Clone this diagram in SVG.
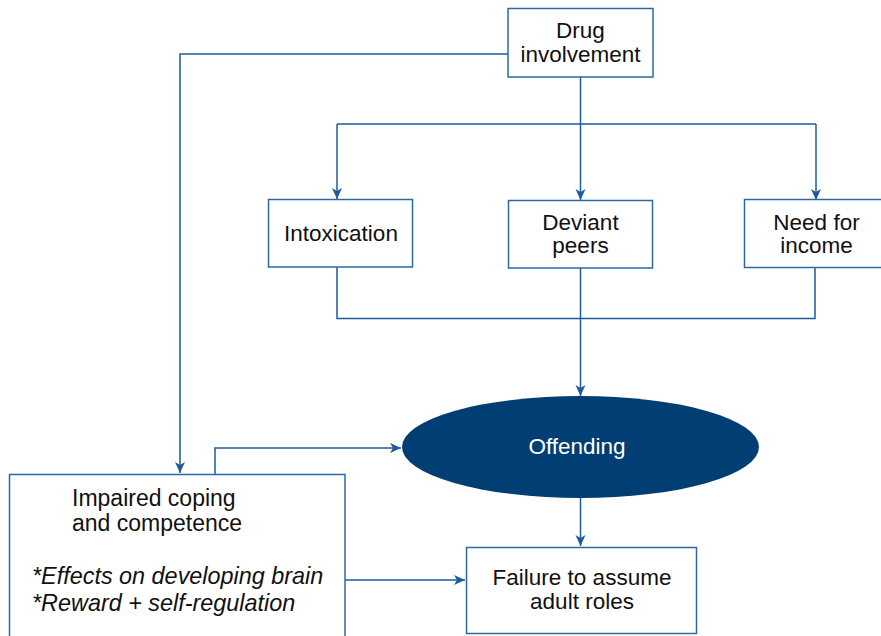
<svg xmlns="http://www.w3.org/2000/svg" width="881" height="636" viewBox="0 0 881 636">
  <defs>
    <style>
      .box { fill: #ffffff; stroke: #2b69a8; stroke-width: 1.5; }
      .conn { fill: none; stroke: #1d5c9c; stroke-width: 1.5; }
      .lbl { font-family: "Liberation Sans", Arial, sans-serif; font-size: 22.5px; fill: #111111; text-anchor: middle; }
      .lft { text-anchor: start; font-size: 23px; }
      .it { font-style: italic; font-size: 23.4px; }
      .wt { fill: #ffffff; }
    </style>
    <marker id="arr" markerUnits="userSpaceOnUse" markerWidth="12" markerHeight="12" viewBox="0 0 12 12" refX="11" refY="6" orient="auto">
      <path d="M0,1 L11,6 L0,11 L3,6 z" fill="#1d5c9c"/>
    </marker>
  </defs>
  <rect width="881" height="636" fill="#ffffff"/>

  <g id="connectors">
    <path class="conn" d="M508,54 H180 V473" marker-end="url(#arr)"/>
    <path class="conn" d="M580.5,77 V124"/>
    <path class="conn" d="M337,124 H816"/>
    <path class="conn" d="M337,124 V199" marker-end="url(#arr)"/>
    <path class="conn" d="M580.5,124 V200" marker-end="url(#arr)"/>
    <path class="conn" d="M816,124 V200" marker-end="url(#arr)"/>
    <path class="conn" d="M337,267 V318.5 H815 V268"/>
    <path class="conn" d="M580.5,268 V396" marker-end="url(#arr)"/>
    <path class="conn" d="M215,474 V448 H401" marker-end="url(#arr)"/>
    <path class="conn" d="M580.5,498 V546" marker-end="url(#arr)"/>
    <path class="conn" d="M345,580 H465" marker-end="url(#arr)"/>
  </g>

  <g id="drug">
    <rect class="box" x="508" y="8.5" width="145" height="68.5"/>
    <text class="lbl" x="580.5" y="38">Drug</text>
    <text class="lbl" x="580.5" y="62">involvement</text>
  </g>

  <g id="intoxication">
    <rect class="box" x="268.5" y="199.5" width="144" height="67.5"/>
    <text class="lbl" x="341" y="241">Intoxication</text>
  </g>

  <g id="deviant">
    <rect class="box" x="508.5" y="200.5" width="144" height="67.5"/>
    <text class="lbl" x="580.5" y="230">Deviant</text>
    <text class="lbl" x="580.5" y="253">peers</text>
  </g>

  <g id="income">
    <rect class="box" x="744.5" y="199.5" width="145" height="68"/>
    <text class="lbl" x="816.5" y="230">Need for</text>
    <text class="lbl" x="816.5" y="253">income</text>
  </g>

  <g id="offending">
    <ellipse cx="580.5" cy="447" rx="178.5" ry="51" fill="#003e73"/>
    <text class="lbl wt" x="577" y="454">Offending</text>
  </g>

  <g id="impaired">
    <rect class="box" x="9.5" y="474.5" width="335.5" height="170"/>
    <text class="lbl lft" x="72" y="506">Impaired coping</text>
    <text class="lbl lft" x="72" y="531">and competence</text>
    <text class="lbl lft it" x="32" y="584">*Effects on developing brain</text>
    <text class="lbl lft it" x="32" y="611">*Reward + self-regulation</text>
  </g>

  <g id="failure">
    <rect class="box" x="466.5" y="547.5" width="230" height="86"/>
    <text class="lbl" x="582" y="585">Failure to assume</text>
    <text class="lbl" x="582" y="609">adult roles</text>
  </g>
</svg>
